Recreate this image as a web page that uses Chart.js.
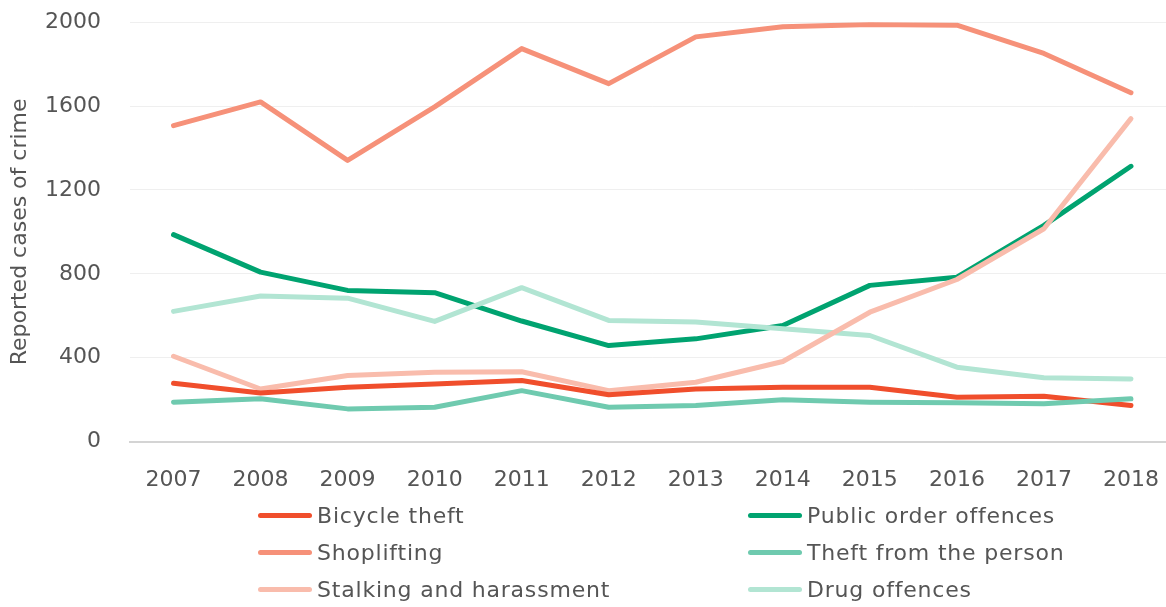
<!DOCTYPE html>
<html>
<head>
<meta charset="utf-8">
<script src="https://cdn.jsdelivr.net/npm/chart.js@4/dist/chart.umd.min.js"></script>
<style>
  body { margin: 0; background: #fff; overflow: hidden; font-family: "DejaVu Sans", sans-serif; }
  #wrap { position: relative; width: 1184px; height: 538px; margin-top: -20px; }
  #legend { position: absolute; left: 258px; top: 497px; display: grid; grid-template-columns: 490px 400px; row-gap: 0; }
  .item { display: flex; align-items: center; height: 37px; color: #555; font-size: 22px; letter-spacing: 0.8px; white-space: nowrap; }
  .swatch { width: 54px; height: 5px; border-radius: 3px; margin-right: 5px; }
</style>
</head>
<body>
<div id="wrap"><canvas id="myChart"></canvas></div>
<div id="legend"></div>
<script>
const years = ['2007', '2008', '2009', '2010', '2011', '2012', '2013', '2014', '2015', '2016', '2017', '2018'];

const bicycleTheft = [278, 232, 259, 275, 291, 223, 251, 259, 259, 211, 216, 172];
const shoplifting = [1507, 1620, 1341, 1596, 1874, 1707, 1930, 1978, 1989, 1986, 1851, 1664];
const stalkingHarassment = [407, 251, 315, 331, 333, 243, 283, 382, 617, 773, 1015, 1540];
const publicOrder = [987, 808, 721, 710, 575, 458, 490, 554, 745, 784, 1031, 1313];
const theftFromPerson = [188, 204, 156, 164, 243, 164, 172, 199, 188, 185, 180, 204];
const drugOffences = [621, 694, 684, 573, 734, 578, 570, 538, 506, 355, 304, 299];

const yTicks = [0, 400, 800, 1200, 1600, 2000];

// legend order: row by row, two columns
const series = [
    { label: 'Bicycle theft', data: bicycleTheft, color: '#f04e2c', order: 2 },
    { label: 'Public order offences', data: publicOrder, color: '#00a370', order: 5 },
    { label: 'Shoplifting', data: shoplifting, color: '#f69179', order: 1 },
    { label: 'Theft from the person', data: theftFromPerson, color: '#6fcaaf', order: 0 },
    { label: 'Stalking and harassment', data: stalkingHarassment, color: '#f9bcac', order: 3 },
    { label: 'Drug offences', data: drugOffences, color: '#b2e5d3', order: 4 }
];

const fontFamily = '"DejaVu Sans", sans-serif';
const textColor = '#555555';

const ctx = document.getElementById('myChart').getContext('2d');
const myChart = new Chart(ctx, {
    type: 'line',
    data: {
        labels: years,
        datasets: series.map(s => ({
            label: s.label,
            data: s.data,
            borderColor: s.color,
            backgroundColor: s.color,
            borderWidth: 5,
            pointRadius: 0,
            tension: 0,
            borderCapStyle: 'round',
            borderJoinStyle: 'round',
            order: s.order,
            fill: false
        }))
    },
    options: {
        responsive: true,
        maintainAspectRatio: false,
        animation: false,
        layout: { padding: { top: 7, right: 1, left: 4, bottom: 0 } },
        plugins: {
            legend: { display: false },
            tooltip: { enabled: false }
        },
        scales: {
            x: {
                offset: true,
                grid: { display: false, drawTicks: false },
                border: { display: true, color: '#d4d4d4', width: 2 },
                ticks: { color: textColor, padding: 25, maxRotation: 0, font: { family: fontFamily, size: 22 } }
            },
            y: {
                min: 0,
                max: 2000,
                afterBuildTicks: axis => { axis.ticks = yTicks.map(v => ({ value: v })); },
                afterFit: axis => { axis.width = 126; },
                grid: { color: '#efefef', lineWidth: 1, drawTicks: false },
                border: { display: false },
                ticks: {
                    color: textColor,
                    padding: 29,
                    font: { family: fontFamily, size: 22 },
                    callback: v => String(v)
                },
                title: {
                    display: true,
                    text: 'Reported cases of crime',
                    color: textColor,
                    padding: { top: 3, bottom: 0 },
                    font: { family: fontFamily, size: 22 }
                }
            }
        }
    }
});

// custom two-column legend built from the datasets
const legendEl = document.getElementById('legend');
myChart.data.datasets.forEach(ds => {
    const item = document.createElement('div');
    item.className = 'item';
    const sw = document.createElement('span');
    sw.className = 'swatch';
    sw.style.background = ds.borderColor;
    const txt = document.createElement('span');
    txt.textContent = ds.label;
    item.appendChild(sw);
    item.appendChild(txt);
    legendEl.appendChild(item);
});
</script>
</body>
</html>
